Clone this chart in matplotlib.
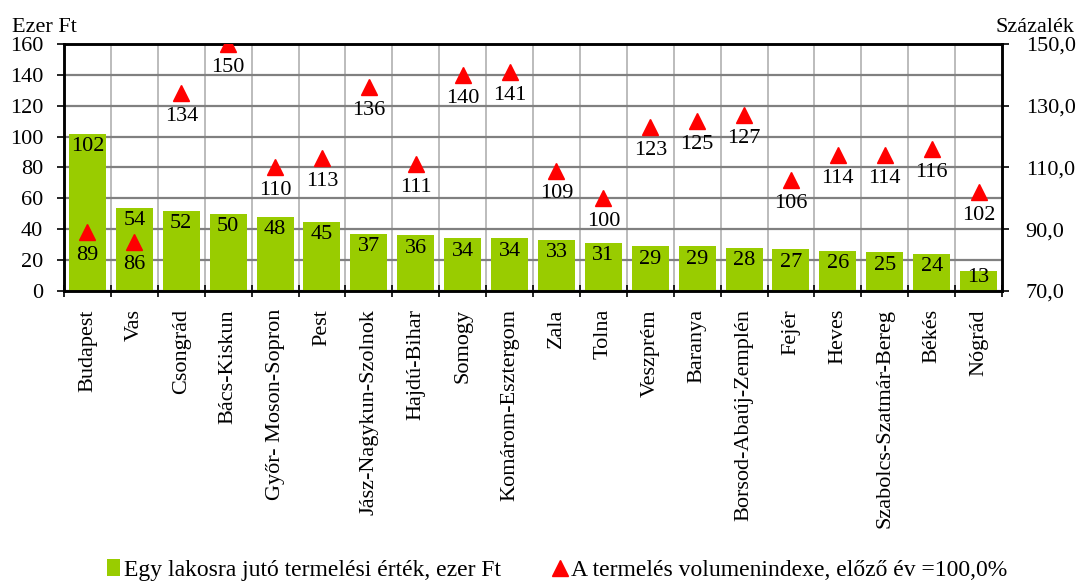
import matplotlib.pyplot as plt
import numpy as np
from matplotlib.ticker import FuncFormatter
from matplotlib.lines import Line2D
from matplotlib.patches import Patch

plt.rcParams['font.family'] = ['Liberation Serif', 'DejaVu Serif']

megyek = ['Budapest', 'Vas', 'Csongrád', 'Bács-Kiskun', 'Győr- Moson-Sopron', 'Pest',
          'Jász-Nagykun-Szolnok', 'Hajdú-Bihar', 'Somogy', 'Komárom-Esztergom', 'Zala',
          'Tolna', 'Veszprém', 'Baranya', 'Borsod-Abaúj-Zemplén', 'Fejér', 'Heves',
          'Szabolcs-Szatmár-Bereg', 'Békés', 'Nógrád']
termeles = [102, 54, 52, 50, 48, 45, 37, 36, 34, 34, 33, 31, 29, 29, 28, 27, 26, 25, 24, 13]
volumenindex = [89, 86, 134, 150, 110, 113, 136, 111, 140, 141, 109, 100, 123, 125, 127,
                106, 114, 114, 116, 102]

green = '#99cc00'
red = '#ff0000'
fs = 16

fig = plt.figure(figsize=(10.78, 5.83), dpi=100)
ax = fig.add_axes([0.0594, 0.5009, 0.8701, 0.4236])
ax2 = ax.twinx()

x = np.arange(len(megyek))
ax.bar(x, termeles, width=0.79, color=green, zorder=2)
for xi, v in zip(x, termeles):
    # value label inside the top of the bar, kept above the axis for short bars
    ax.annotate(str(v), (xi, max(v, 17)), xytext=(0, -12.5), textcoords='offset points',
                ha='center', va='baseline', fontsize=fs, zorder=5)

ax.set_xlim(-0.5, len(megyek) - 0.5)
ax.set_ylim(0, 160)
ax.set_yticks(range(0, 161, 20))
ax.yaxis.grid(True, color='#808080', linewidth=1.6, zorder=0)
ax.set_axisbelow(True)
# vertical lines between categories
for b in np.arange(0.5, len(megyek) - 0.5, 1):
    ax.axvline(b, color='#b0b0b0', linewidth=1.2, zorder=0)
ax.set_xticks(np.arange(-0.5, len(megyek), 1))
ax.set_xticklabels([])
ax.set_xticks(x, minor=True)
ax.set_xticklabels(megyek, minor=True, rotation=90, fontsize=fs, va='top', ha='center')
ax.tick_params(axis='x', which='major', length=8, width=1.2, direction='inout')
ax.tick_params(axis='x', which='minor', length=0, pad=13)
ax.tick_params(axis='y', length=5, width=1.2, direction='out', labelsize=fs, pad=10)

ax2.plot(x, volumenindex, linestyle='none', marker='^', markersize=12, color=red, zorder=4)
for xi, v in zip(x, volumenindex):
    ax2.annotate(str(v), (xi, v), xytext=(0, -20), textcoords='offset points',
                 ha='center', va='baseline', fontsize=fs)
ax2.set_ylim(70, 150)
ax2.set_yticks(range(70, 151, 20))
ax2.yaxis.set_major_formatter(FuncFormatter(lambda v, p: f'{v:.1f}'.replace('.', ',')))
ax2.tick_params(axis='y', length=5, width=1.2, direction='out', labelsize=fs, pad=12)
ax2.set_zorder(ax.get_zorder() + 1)
ax2.patch.set_visible(False)

for a in (ax, ax2):
    for s in a.spines.values():
        s.set_linewidth(1.8)
        s.set_color('black')

fig.text(0.011, 0.953, 'Ezer Ft', fontsize=fs, ha='left', va='center')
fig.text(0.997, 0.953, 'Százalék', fontsize=fs, ha='right', va='center')

handles = [Patch(facecolor=green, edgecolor='none'),
           Line2D([], [], linestyle='none', marker='^', markersize=12, color=red)]
labels = ['Egy lakosra jutó termelési érték, ezer Ft',
          'A termelés volumenindexe, előző év =100,0%']
fig.legend(handles, labels, loc='center left', bbox_to_anchor=(0.099, 0.022), ncol=2,
           frameon=False, fontsize=17, handlelength=0.55, handletextpad=0.2,
           columnspacing=2.2, handleheight=0.7, borderpad=0, borderaxespad=0)

fig.savefig('out.png', dpi=100)
